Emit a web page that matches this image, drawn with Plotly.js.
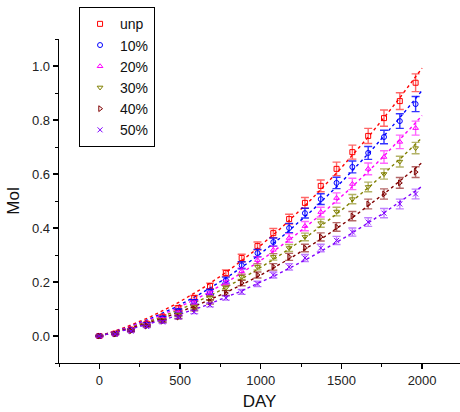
<!DOCTYPE html>
<html>
<head>
<meta charset="utf-8">
<script src="https://cdn.plot.ly/plotly-3.0.1.min.js"></script>
<style>html,body{margin:0;padding:0;background:#fff;overflow:hidden}</style>
</head>
<body>
<div id="chart" style="width:460px;height:412px"></div>
<script>
const days = [0,98,196,294,392,490,588,686,784,882,980,1078,1176,1274,1372,1470,1568,1666,1764,1862,1960];
const seriesNames = ["unp","10%","20%","30%","40%","50%"];
const unp   = [0,0.009,0.024,0.046,0.072,0.104,0.141,0.185,0.233,0.289,0.333,0.381,0.433,0.493,0.556,0.619,0.681,0.741,0.807,0.870,0.938];
const p10   = [0,0.008,0.022,0.043,0.066,0.093,0.126,0.163,0.207,0.262,0.307,0.348,0.400,0.455,0.507,0.567,0.626,0.678,0.737,0.796,0.859];
const p20   = [0,0.008,0.021,0.041,0.062,0.085,0.122,0.156,0.196,0.240,0.281,0.319,0.363,0.407,0.459,0.511,0.563,0.619,0.663,0.719,0.770];
const p30   = [0,0.008,0.020,0.039,0.058,0.078,0.107,0.141,0.178,0.219,0.256,0.293,0.326,0.367,0.418,0.461,0.507,0.552,0.600,0.646,0.696];
const p40   = [0,0.007,0.019,0.037,0.055,0.070,0.100,0.126,0.159,0.196,0.226,0.256,0.293,0.326,0.367,0.404,0.444,0.489,0.526,0.567,0.607];
const p50   = [0,0.007,0.018,0.035,0.052,0.070,0.089,0.115,0.141,0.163,0.193,0.226,0.256,0.289,0.326,0.354,0.385,0.422,0.455,0.489,0.526];
const eUnp  = [0.002,0.003,0.004,0.005,0.006,0.008,0.009,0.011,0.012,0.014,0.015,0.017,0.018,0.020,0.022,0.025,0.026,0.028,0.030,0.031,0.033];
const e10   = [0.002,0.003,0.004,0.005,0.006,0.007,0.008,0.010,0.011,0.013,0.014,0.015,0.017,0.018,0.020,0.021,0.022,0.024,0.025,0.027,0.028];
const e20   = [0.002,0.003,0.004,0.005,0.006,0.007,0.008,0.009,0.010,0.012,0.013,0.014,0.016,0.017,0.018,0.019,0.021,0.022,0.023,0.025,0.026];
const e30   = [0.002,0.002,0.003,0.004,0.005,0.006,0.007,0.008,0.009,0.010,0.011,0.012,0.013,0.014,0.015,0.016,0.017,0.018,0.019,0.020,0.021];
const e40   = [0.002,0.002,0.003,0.004,0.005,0.006,0.007,0.008,0.009,0.010,0.011,0.012,0.013,0.014,0.015,0.016,0.017,0.018,0.019,0.020,0.020];
const e50   = [0.002,0.002,0.003,0.004,0.005,0.005,0.006,0.007,0.008,0.009,0.010,0.011,0.012,0.013,0.014,0.015,0.015,0.016,0.017,0.018,0.018];
const xTickVals = [0,500,1000,1500,2000];
const yTickVals = [0.0,0.2,0.4,0.6,0.8,1.0];

const values = [unp,p10,p20,p30,p40,p50];
const errs = [eUnp,e10,e20,e30,e40,e50];
const colors = ["#ff0000","#0000ff","#ff00ff","#808000","#800000","#8000ff"];
const barColors = ["rgba(255,0,0,0.6)","rgba(0,0,255,0.8)","rgba(255,0,255,0.6)","rgba(128,128,0,0.6)","rgba(128,0,0,0.6)","rgba(128,0,255,0.5)"];
const symbols = ["square-open","circle-open","triangle-up-open","triangle-down-open","triangle-right-open","x-thin-open"];

// least-squares fit through the origin: y = b*x + c*x^2
function originQuadFit(xs, ys){
  let s11=0,s12=0,s22=0,t1=0,t2=0;
  for(let i=0;i<xs.length;i++){
    const u=xs[i]/1000, a=u, b=u*u;
    s11+=a*a;s12+=a*b;s22+=b*b;t1+=a*ys[i];t2+=b*ys[i];
  }
  const det=s11*s22-s12*s12;
  const b=(t1*s22-t2*s12)/det, c=(s11*t2-s12*t1)/det;
  return x=>{const u=x/1000;return b*u+c*u*u;};
}

const traces=[];
const xFit=[];for(let x=0;x<=2000;x+=20)xFit.push(x);
values.forEach((ys,i)=>{
  const f=originQuadFit(days,ys);
  traces.push({x:xFit,y:xFit.map(f),mode:"lines",showlegend:false,hoverinfo:"skip",
    line:{color:colors[i],width:1.4,dash:"dot"}});
});
values.forEach((ys,i)=>{
  traces.push({x:days,y:ys,name:seriesNames[i],mode:"markers",
    marker:{symbol:symbols[i],size:5,color:colors[i],line:{width:1,color:colors[i]}},
    error_y:{type:"data",array:errs[i],visible:true,color:barColors[i],thickness:1.4,width:4}});
});

const layout={
  width:460,height:412,
  margin:{l:59,r:0,t:39,b:49},
  paper_bgcolor:"#fff",plot_bgcolor:"#fff",
  font:{family:"Arial, 'Liberation Sans', sans-serif",color:"#222",size:13},
  showlegend:true,
  legend:{x:0.05,y:1.098,xanchor:"left",yanchor:"top",bordercolor:"#000",borderwidth:1,
    bgcolor:"#fff",font:{size:14,color:"#111"},tracegroupgap:0,itemwidth:30},
  xaxis:{range:[-250,2235],tickvals:xTickVals,ticks:"outside",ticklen:5,tickwidth:1.2,tickcolor:"#000",
    showline:true,linecolor:"#000",linewidth:1.3,showgrid:false,zeroline:false,
    minor:{dtick:250,tick0:0,ticks:"outside",ticklen:3,tickcolor:"#000",tickwidth:1},
    title:{text:"DAY",font:{size:17,color:"#111"},standoff:8}},
  yaxis:{range:[-0.1,1.1],tickvals:yTickVals,tickformat:".1f",ticks:"outside",ticklen:5,tickwidth:1.2,tickcolor:"#000",
    showline:true,linecolor:"#000",linewidth:1.3,showgrid:false,zeroline:false,
    minor:{dtick:0.1,tick0:0,ticks:"outside",ticklen:3,tickcolor:"#000",tickwidth:1},
    title:{text:"Mol",font:{size:17,color:"#111"},standoff:8}}
};
Plotly.newPlot("chart",traces,layout,{displayModeBar:false,staticPlot:true});
</script>
</body>
</html>
